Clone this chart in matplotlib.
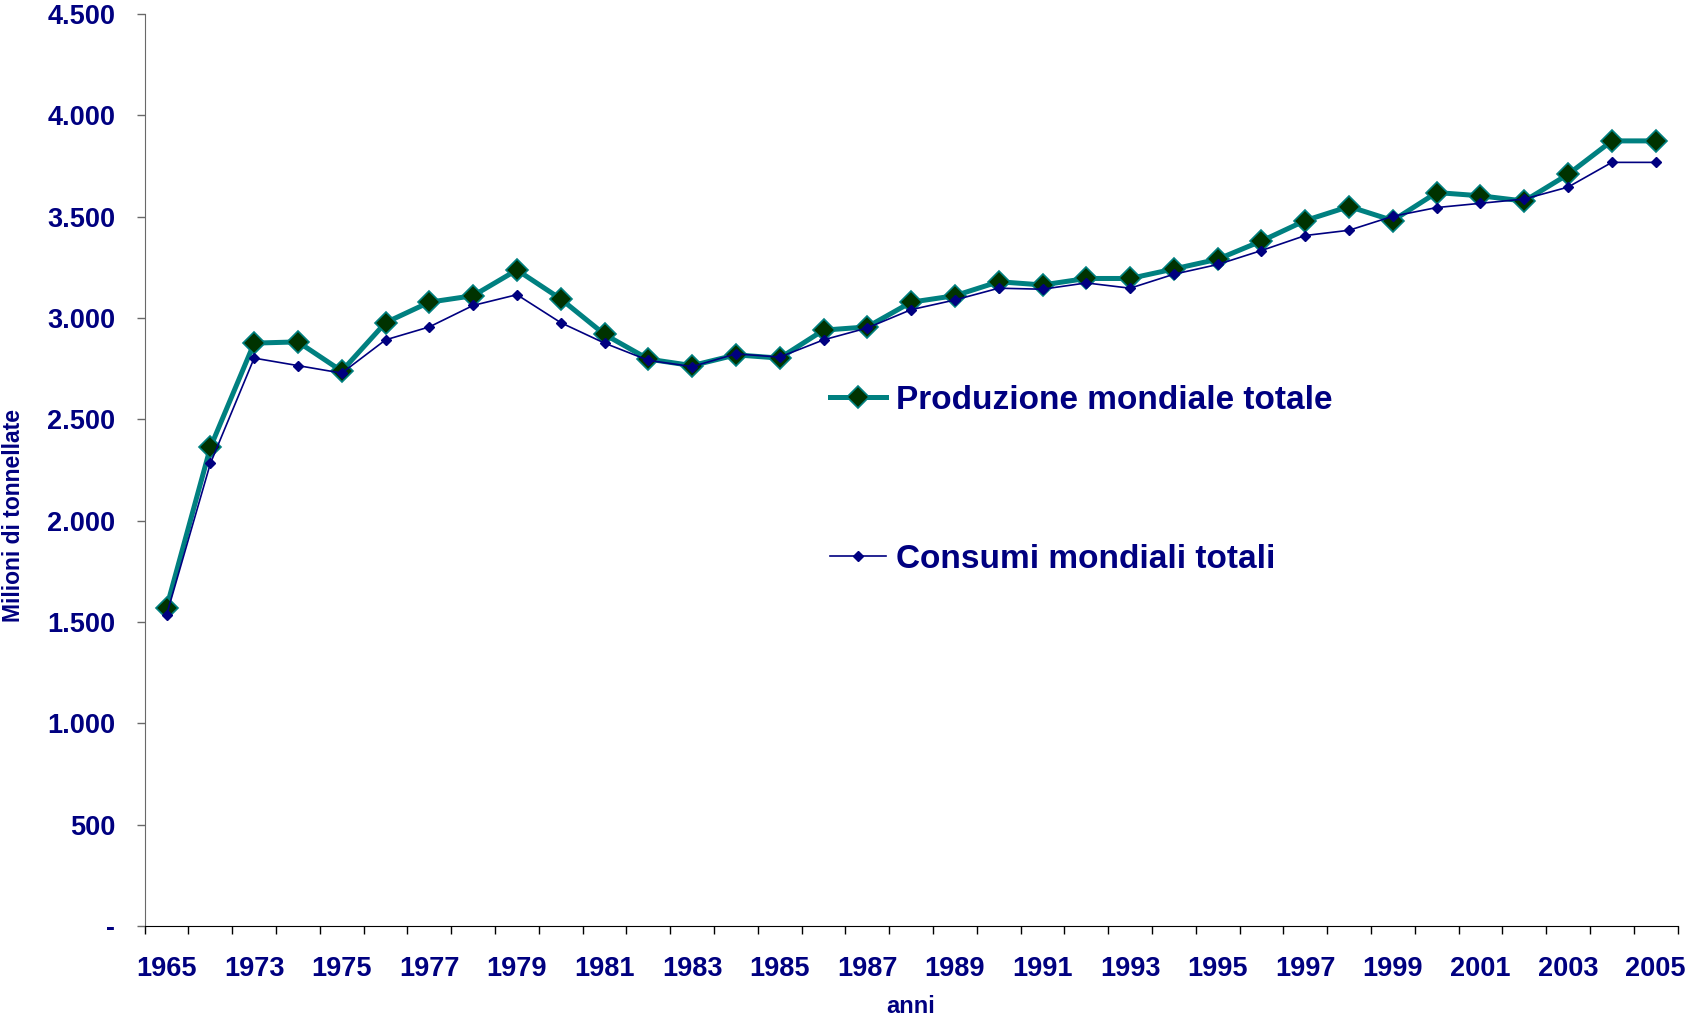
import matplotlib
matplotlib.use("Agg")
import matplotlib.pyplot as plt
import numpy as np

plt.rcParams['font.family'] = ['Liberation Sans', 'DejaVu Sans']
plt.rcParams['font.weight'] = 'bold'

NAVY = "#000080"
TEAL = "#008080"

years = [1965, 1970] + list(range(1973, 2006))
# milioni di tonnellate
produzione = [1571, 2361, 2876, 2882, 2738, 2977, 3078, 3110, 3237, 3094,
              2919, 2797, 2765, 2818, 2802, 2940, 2956, 3078, 3110, 3179,
              3163, 3195, 3195, 3242, 3290, 3380, 3481, 3550, 3481, 3619,
              3603, 3577, 3709, 3874, 3874]
consumi = [1534, 2282, 2802, 2765, 2728, 2892, 2956, 3062, 3115, 2977,
           2876, 2791, 2760, 2823, 2807, 2892, 2951, 3041, 3089, 3147,
           3142, 3173, 3147, 3216, 3264, 3333, 3407, 3433, 3502, 3545,
           3566, 3587, 3646, 3768, 3768]
yticks = [0, 500, 1000, 1500, 2000, 2500, 3000, 3500, 4000, 4500]
ytick_labels = ["-", "500", "1.000", "1.500", "2.000", "2.500",
                "3.000", "3.500", "4.000", "4.500"]

fig = plt.figure(figsize=(16.86, 10.18), dpi=100)
ax = fig.add_axes([0.0858, 0.0905, 0.9092, 0.8957])

x = np.arange(len(years))
ax.plot(x, produzione, color=TEAL, lw=3.6, marker='D', ms=11,
        mfc="#003300", mec=TEAL, mew=1.2, label="Produzione mondiale totale", zorder=2)
ax.plot(x, consumi, color=NAVY, lw=1.2, marker='D', ms=5.5,
        mfc=NAVY, mec=NAVY, label="Consumi mondiali totali", zorder=3)

ax.set_xlim(-0.5, len(years) - 0.5)
ax.set_ylim(0, 4500)

# tacche tra le categorie, etichette ogni due anni
ax.set_xticks(np.arange(len(years) + 1) - 0.5)
ax.set_xticklabels([])
ax.tick_params(axis='x', which='major', direction='out', length=6, width=1, color='black')
ax.set_xticks(x[::2], minor=True)
ax.set_xticklabels([str(y) for y in years[::2]], minor=True)
ax.tick_params(axis='x', which='minor', length=0, pad=22, labelsize=19.5, labelcolor=NAVY)

ax.set_yticks(yticks)
ax.set_yticklabels(ytick_labels)
ax.tick_params(axis='y', direction='out', length=6, width=1, color='dimgray',
               pad=15, labelsize=19.5, labelcolor=NAVY)

for s in ['top', 'right']:
    ax.spines[s].set_visible(False)
ax.spines['left'].set_color('dimgray')
ax.spines['bottom'].set_color('black')

ax.set_xlabel("anni", fontsize=17, fontweight='bold', color=NAVY, labelpad=9)
ax.set_ylabel("Milioni di tonnellate", fontsize=16.5, fontweight='bold', color=NAVY)
ax.yaxis.label.set_va('center')
ax.yaxis.set_label_coords(-0.0853, 0.4505, transform=ax.transAxes)

leg = ax.legend(loc='upper left', bbox_to_anchor=(0.492, 0.6218),
                bbox_transform=fig.transFigure, frameon=False, fontsize=24,
                labelspacing=3.83, handlelength=1.7, handletextpad=0.3,
                borderpad=0, borderaxespad=0)
for t in leg.get_texts():
    t.set_color(NAVY)

fig.savefig("out.png", dpi=100)
